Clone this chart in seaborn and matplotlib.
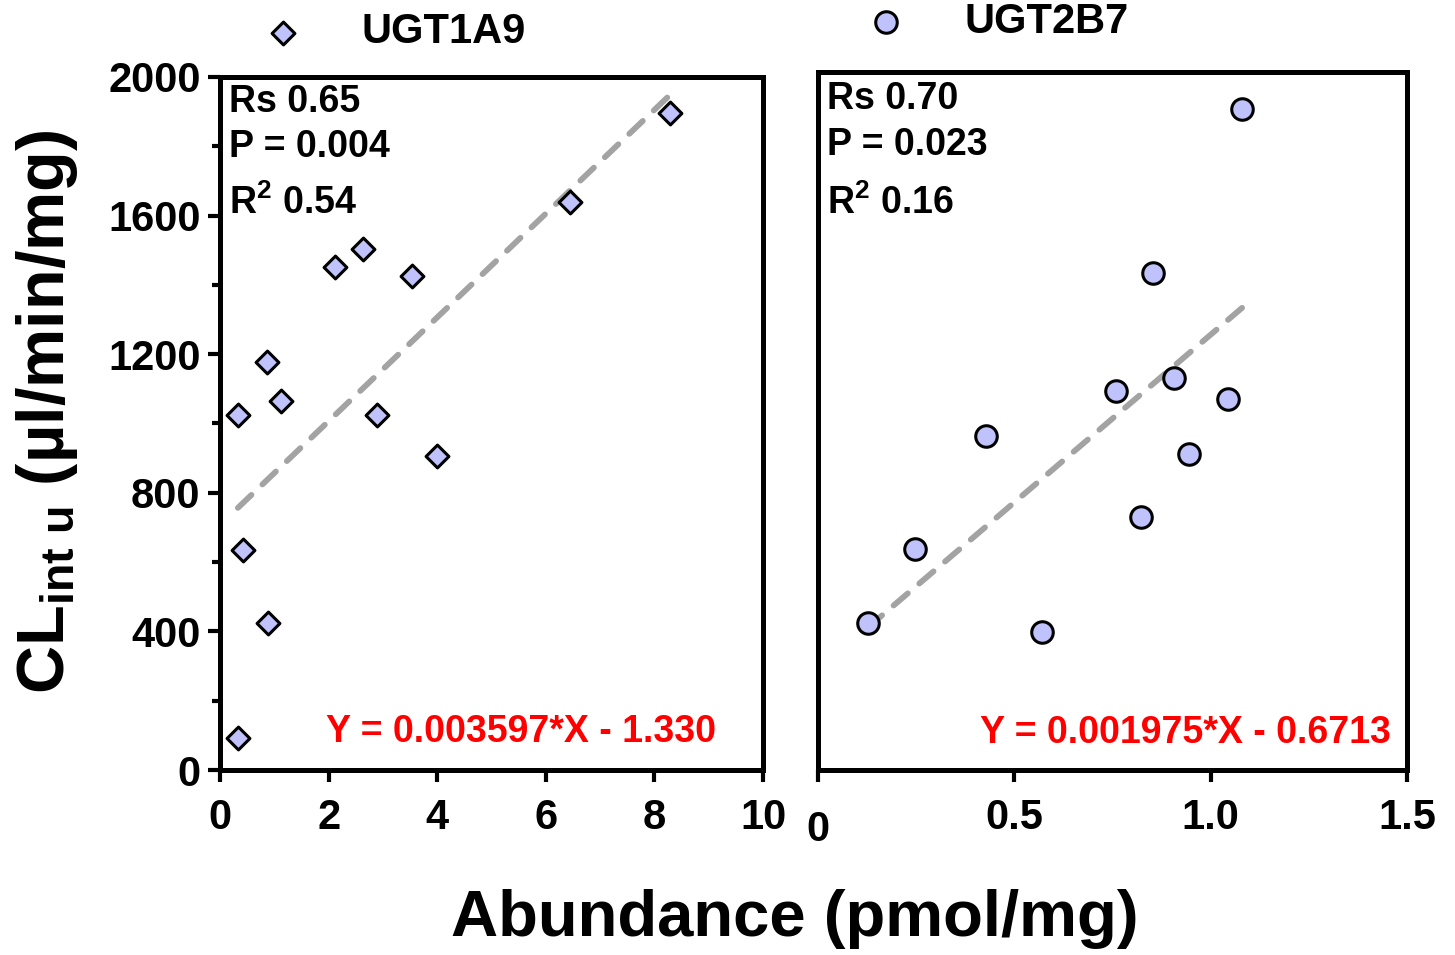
import numpy as np
import pandas as pd
import matplotlib
matplotlib.use('Agg')
import matplotlib.pyplot as plt
import matplotlib.transforms as mtransforms
import seaborn as sns

# UGT1A9 abundance (pmol/mg) vs CLint u (ul/min/mg)
ugt1a9_x = [0.33, 0.87, 1.12, 0.42, 0.88, 0.33, 2.12, 2.63, 3.54, 2.89, 4.00, 6.45, 8.29]
ugt1a9_y = [1025, 1177, 1065, 635, 424, 92, 1452, 1504, 1426, 1025, 906, 1639, 1896]

# UGT2B7
ugt2b7_x = [0.127, 0.247, 0.428, 0.570, 0.759, 0.853, 0.907, 0.823, 0.945, 1.044, 1.080]
ugt2b7_y = [424, 638, 964, 398, 1094, 1434, 1131, 730, 912, 1071, 1908]

stats_1a9 = ['Rs 0.65', 'P = 0.004', r'R$^{\mathbf{2}}$ 0.54']
stats_2b7 = ['Rs 0.70', 'P = 0.023', r'R$^{\mathbf{2}}$ 0.16']
eq_1a9 = 'Y = 0.003597*X - 1.330'
eq_2b7 = 'Y = 0.001975*X - 0.6713'

x_ticks_1a9 = [0, 2, 4, 6, 8, 10]
x_ticks_2b7 = [0, 0.5, 1.0, 1.5]
x_ticklabels_2b7 = ['0', '0.5', '1.0', '1.5']
y_ticks = [0, 400, 800, 1200, 1600, 2000]

df1 = pd.DataFrame({'x': ugt1a9_x, 'y': ugt1a9_y})
df2 = pd.DataFrame({'x': ugt2b7_x, 'y': ugt2b7_y})

sns.set_theme(style='ticks')
plt.rcParams['font.family'] = ['Liberation Sans', 'DejaVu Sans']
plt.rcParams['font.weight'] = 'bold'
plt.rcParams['text.color'] = 'black'
plt.rcParams['axes.labelcolor'] = 'black'
plt.rcParams['xtick.color'] = 'black'
plt.rcParams['ytick.color'] = 'black'
plt.rcParams['mathtext.fontset'] = 'custom'
plt.rcParams['mathtext.rm'] = 'Liberation Sans:bold'
plt.rcParams['mathtext.bf'] = 'Liberation Sans:bold'
plt.rcParams['mathtext.it'] = 'Liberation Sans:bold'

fill = '#c0c3fb'
line_gray = '#a3a3a3'

fig = plt.figure(figsize=(14.55, 9.55), dpi=100)
ax1 = fig.add_axes([0.1512, 0.1937, 0.3732, 0.7257])
ax2 = fig.add_axes([0.5622, 0.1937, 0.4048, 0.7309])

line_kws = dict(color=line_gray, lw=4.2, linestyle=(0, (3.2, 2.6)), dash_capstyle='round')

sns.regplot(data=df1, x='x', y='y', ax=ax1, scatter=False, ci=None, line_kws=line_kws)
sns.scatterplot(data=df1, x='x', y='y', ax=ax1, marker='D', s=135, color=fill,
                edgecolor='black', linewidth=2.2, zorder=3, label='UGT1A9')

sns.regplot(data=df2, x='x', y='y', ax=ax2, scatter=False, ci=None, line_kws=line_kws)
sns.scatterplot(data=df2, x='x', y='y', ax=ax2, marker='o', s=240, color=fill,
                edgecolor='black', linewidth=2.2, zorder=3, label='UGT2B7')

for ax in (ax1, ax2):
    for sp in ax.spines.values():
        sp.set_linewidth(3.6)
        sp.set_color('black')
    ax.set_xlabel('')
    ax.set_ylabel('')
    ax.tick_params(axis='x', which='major', length=8.5, width=3, pad=12,
                   labelsize=30, colors='black')

ax1.set_xlim(0, 10)
ax1.set_ylim(0, 2000)
ax1.set_xticks(x_ticks_1a9)
ax1.set_yticks(y_ticks)
ax1.set_yticks([200, 600, 1000, 1400, 1800], minor=True)
ax1.tick_params(axis='y', which='major', length=9, width=3, pad=5, labelsize=30)
ax1.tick_params(axis='y', which='minor', length=5.5, width=3)
ax1.tick_params(axis='x', which='minor', length=0)

ax2.set_xlim(0, 1.5)
ax2.set_ylim(0, 2014)
ax2.set_xticks(x_ticks_2b7)
ax2.set_xticklabels(x_ticklabels_2b7)
ax2.set_yticks([])
ax2.tick_params(axis='x', which='minor', length=0)

for lbl in ax1.get_xticklabels() + ax1.get_yticklabels() + ax2.get_xticklabels():
    lbl.set_fontweight('bold')

# the "0" of the right panel sits a little lower in the original
zero_lbl = ax2.get_xticklabels()[0]
zero_lbl.set_transform(zero_lbl.get_transform() +
                       mtransforms.ScaledTranslation(0, -0.12, fig.dpi_scale_trans))

stat_y1 = [0.964, 0.899, 0.818]
stat_y2 = [0.961, 0.895, 0.812]
for s, yy in zip(stats_1a9, stat_y1):
    ax1.text(0.016, yy, s, transform=ax1.transAxes, fontsize=27,
             fontweight='bold', va='center', ha='left')
for s, yy in zip(stats_2b7, stat_y2):
    ax2.text(0.015, yy, s, transform=ax2.transAxes, fontsize=27,
             fontweight='bold', va='center', ha='left')

ax1.text(0.913, 0.055, eq_1a9, transform=ax1.transAxes, fontsize=27,
         fontweight='bold', color='#ff0000', ha='right', va='center')
ax2.text(0.973, 0.053, eq_2b7, transform=ax2.transAxes, fontsize=27,
         fontweight='bold', color='#ff0000', ha='right', va='center')

leg_kw = dict(frameon=False, handlelength=1.0, handletextpad=1.4,
              borderpad=0, borderaxespad=0, markerscale=1.0,
              prop={'weight': 'bold', 'size': 30})
ax1.legend(loc='center left', bbox_to_anchor=(0.180, 0.966),
           bbox_transform=fig.transFigure, **leg_kw)
ax2.legend(loc='center left', bbox_to_anchor=(0.5945, 0.977),
           bbox_transform=fig.transFigure, **leg_kw)

fig.text(0.032, 0.569, r'CL$_{\mathbf{int\ u}}$ (µl/min/mg)', rotation=90, fontsize=48,
         fontweight='bold', ha='center', va='center')
fig.text(0.546, 0.038, 'Abundance (pmol/mg)', fontsize=47, fontweight='bold',
         ha='center', va='center')

fig.savefig('out.png', dpi=100)
